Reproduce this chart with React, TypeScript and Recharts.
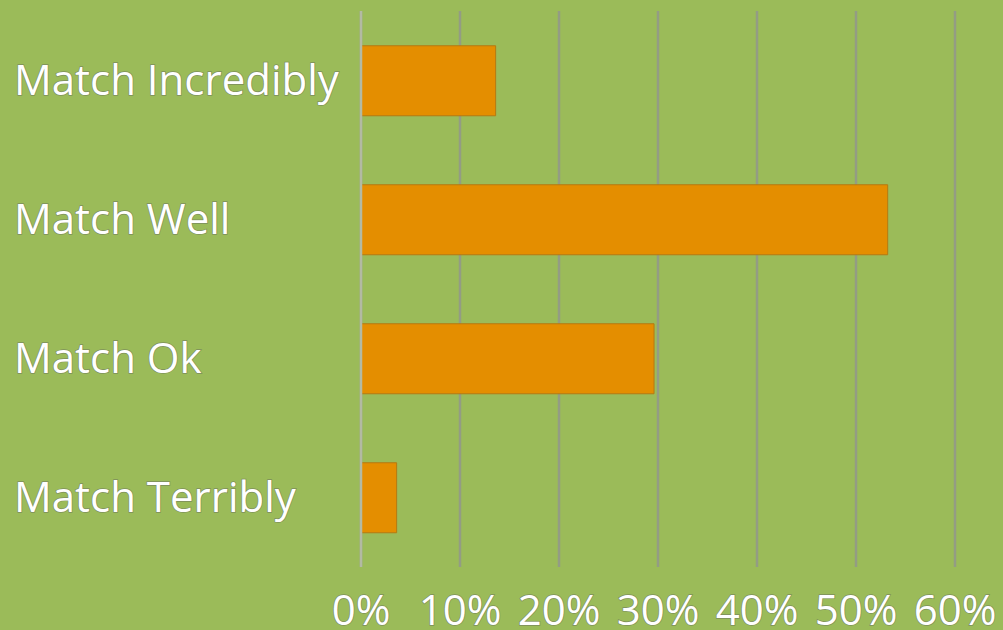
import { Bar, BarChart, CartesianGrid, XAxis, YAxis } from "recharts";

const categories = ["Match Incredibly", "Match Well", "Match Ok", "Match Terribly"];
const shares = [13.6, 53.2, 29.6, 3.6];
const xTicks = [0, 10, 20, 30, 40, 50, 60];

const data = categories.map((name, i) => ({ name, share: shares[i] }));

const textStyle = {
  fill: "#ffffff",
  stroke: "#7d8f5c",
  strokeWidth: 1.4,
  paintOrder: "stroke" as const,
  fontFamily: "'Open Sans', sans-serif",
};

function CategoryTick(props: any) {
  const { y, payload } = props;
  return (
    <text x={14} y={y} dy={14} textAnchor="start" fontSize={42} style={textStyle}>
      {payload.value}
    </text>
  );
}

function PercentTick(props: any) {
  const { x, y, payload } = props;
  return (
    <text x={x} y={y} dy={58} textAnchor="middle" fontSize={42} style={textStyle}>
      {`${payload.value}%`}
    </text>
  );
}

export default function App() {
  return (
    <div
      style={{
        position: "absolute",
        left: 0,
        top: 0,
        width: 1003,
        height: 630,
        background: "#9bbb59",
      }}
    >
      <BarChart
        width={1003}
        height={630}
        data={data}
        layout="vertical"
        barCategoryGap="25%"
        margin={{ top: 11, right: 48, left: 0, bottom: 0 }}
      >
        <CartesianGrid
          horizontal={false}
          stroke="#939c84"
          strokeWidth={2.5}
        />
        <XAxis
          type="number"
          domain={[0, 60]}
          ticks={xTicks}
          interval={0}
          axisLine={false}
          tickLine={false}
          tickSize={0}
          tickMargin={0}
          height={63}
          tick={<PercentTick />}
        />
        <YAxis
          type="category"
          dataKey="name"
          width={361}
          axisLine={{ stroke: "#b3baa3", strokeWidth: 2.5 }}
          tickLine={false}
          tick={<CategoryTick />}
        />
        <Bar
          dataKey="share"
          fill="#e48e00"
          stroke="#b47a12"
          strokeWidth={1}
          isAnimationActive={false}
        />
      </BarChart>
    </div>
  );
}
